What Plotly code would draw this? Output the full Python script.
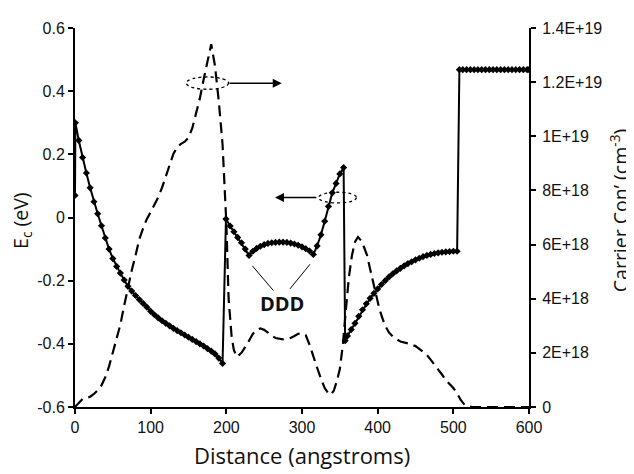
import plotly.graph_objects as go

# ---- data ----
# Conduction band edge Ec (eV) vs distance (angstroms)
ec_x = [0, 0.5, 5, 10, 15, 20, 25, 30, 35, 40, 45, 50, 55, 60, 65, 70, 75, 80, 85, 90,
        95, 100, 105, 110, 115, 120, 125, 130, 135, 140, 145, 150, 155, 160, 165, 170,
        175, 180, 185, 190, 195,
        199.5, 205, 210, 215, 220, 225, 230,
        235, 240, 245, 250, 255, 260, 265, 270, 275, 280, 285, 290, 295, 300, 305, 310, 315,
        320, 325, 330, 335, 340, 345, 350, 355,
        357, 360, 365, 370, 375, 380, 385, 390, 395, 400, 405, 410, 415, 420, 425, 430,
        435, 440, 445, 450, 455, 460, 465, 470, 475, 480, 485, 490, 495, 500, 505,
        508, 512.5, 517.5, 522.5, 527.5, 532.5, 537.5, 542.5, 547.5, 552.5, 557.5, 562.5,
        567.5, 572.5, 577.5, 582.5, 587.5, 592.5, 597.5, 600]
ec_y = [0.07, 0.30, 0.244, 0.19, 0.141, 0.094, 0.05, 0.012, -0.026, -0.065, -0.10, -0.13,
        -0.155, -0.176, -0.198, -0.218, -0.233, -0.247, -0.26, -0.272, -0.284, -0.297,
        -0.308, -0.318, -0.327, -0.335, -0.343, -0.351, -0.358, -0.365, -0.372, -0.379,
        -0.386, -0.393, -0.400, -0.407, -0.415, -0.423, -0.432, -0.445, -0.462,
        -0.005, -0.027, -0.045, -0.063, -0.08, -0.10, -0.12,
        -0.107, -0.098, -0.091, -0.086, -0.082, -0.080, -0.079, -0.078, -0.078, -0.079,
        -0.081, -0.084, -0.088, -0.093, -0.099, -0.106, -0.117,
        -0.09, -0.055, -0.012, 0.035, 0.078, 0.108, 0.138, 0.158,
        -0.39, -0.375, -0.355, -0.335, -0.313, -0.292, -0.273, -0.256, -0.24, -0.226,
        -0.212, -0.20, -0.188, -0.178, -0.169, -0.161, -0.153, -0.146, -0.14, -0.134,
        -0.129, -0.124, -0.12, -0.117, -0.114, -0.112, -0.11, -0.109, -0.108, -0.107, -0.107,
        0.468, 0.468, 0.468, 0.468, 0.468, 0.468, 0.468, 0.468, 0.468, 0.468, 0.468, 0.468,
        0.468, 0.468, 0.468, 0.468, 0.468, 0.468, 0.468, 0.468]

# Carrier concentration (units of 1E18 cm^-3) vs distance (angstroms)
cc_x = [0, 3, 6, 10, 15, 20, 25, 30, 35, 40, 45, 50, 55, 60, 65, 70, 75, 80, 85, 90, 95,
        100, 105, 110, 115, 120, 125, 130, 135, 140, 145, 150, 155, 160, 165, 170, 175,
        180, 185, 190, 195, 200, 203, 207, 210, 214, 220, 227, 235, 240, 245, 250, 255,
        260, 265, 270, 275, 280, 285, 290, 295, 300, 305, 310, 315, 320, 325, 330, 335,
        338, 342, 346, 350, 354, 358, 362, 366, 370, 374, 378, 382, 386, 390, 394, 398,
        402, 406, 410, 415, 420, 425, 430, 440, 450, 455, 460, 465, 470, 475, 480, 485,
        490, 495, 500, 505, 510, 515, 520, 525, 540, 560, 580, 600]
cc_y = [0.0, 0.1, 0.2, 0.3, 0.32, 0.38, 0.48, 0.62, 0.8, 1.1, 1.5, 2.0, 2.5, 3.05, 3.75,
        4.45, 5.05, 5.6, 6.2, 6.6, 6.95, 7.2, 7.45, 7.75, 8.1, 8.5, 8.95, 9.35, 9.6, 9.72,
        9.8, 9.95, 10.3, 10.8, 11.4, 12.1, 12.8, 13.4, 12.6, 11.3, 9.7, 6.8, 4.0, 2.6,
        2.1, 1.85, 2.0, 2.3, 2.7, 2.85, 2.9, 2.85, 2.75, 2.63, 2.55, 2.52, 2.5, 2.52,
        2.55, 2.62, 2.7, 2.72, 2.65, 2.3, 1.85, 1.45, 1.05, 0.7, 0.5, 0.45, 0.6, 0.95,
        1.4, 2.3, 3.6, 4.8, 5.6, 6.1, 6.28, 6.15, 5.9, 5.6, 5.1, 4.6, 4.1, 3.65, 3.3, 3.0,
        2.75, 2.6, 2.5, 2.42, 2.35, 2.25, 2.15, 2.05, 1.92, 1.75, 1.55, 1.38, 1.2, 1.0,
        0.85, 0.7, 0.5, 0.25, 0.08, 0.02, 0.0, 0.0, 0.0, 0.0, 0.0]
cc_y = [v * 1e18 for v in cc_y]

x_ticks = [0, 100, 200, 300, 400, 500, 600]
ec_ticks = [0.6, 0.4, 0.2, 0, -0.2, -0.4, -0.6]
ec_ticktext = ["0.6", "0.4", "0.2", "0", "-0.2", "-0.4", "-0.6"]
cc_ticks = [0, 2e18, 4e18, 6e18, 8e18, 1e19, 1.2e19, 1.4e19]
cc_ticktext = ["0", "2E+18", "4E+18", "6E+18", "8E+18", "1E+19", "1.2E+19", "1.4E+19"]

TICK_FONT = dict(family="Liberation Sans, Arial, sans-serif", size=16, color="#111")
TITLE_FONT = dict(family="Open Sans, Noto Sans, sans-serif", size=19.5, color="#111")

fig = go.Figure()
fig.add_trace(go.Scatter(
    x=cc_x, y=cc_y, yaxis="y2", mode="lines",
    line=dict(color="black", width=2.2, dash="11px,6px"),
    showlegend=False, hoverinfo="skip"))
fig.add_trace(go.Scatter(
    x=ec_x, y=ec_y, yaxis="y", mode="lines+markers",
    line=dict(color="black", width=2),
    marker=dict(symbol="diamond", size=5.5, color="black"),
    showlegend=False, hoverinfo="skip"))

shapes = [
    # dotted ellipses
    dict(type="circle", xref="x", yref="y", x0=147, x1=203, y0=0.406, y1=0.445,
         line=dict(color="black", width=1.3, dash="dot")),
    dict(type="circle", xref="x", yref="y", x0=322, x1=372, y0=0.046, y1=0.080,
         line=dict(color="black", width=1.3, dash="dot")),
    # DDD pointer lines
    dict(type="line", xref="x", yref="y", x0=234.3, y0=-0.153, x1=262.1, y1=-0.231,
         line=dict(color="black", width=1)),
    dict(type="line", xref="x", yref="y", x0=310.6, y0=-0.148, x1=284.1, y1=-0.226,
         line=dict(color="black", width=1)),
]

annotations = [
    dict(x=273.2, y=0.425, ax=202.2, ay=0.425, xref="x", yref="y", axref="x", ayref="y",
         showarrow=True, arrowhead=2, arrowsize=1.2, arrowwidth=1.5, arrowcolor="black", text=""),
    dict(x=264.3, y=0.063, ax=321, ay=0.063, xref="x", yref="y", axref="x", ayref="y",
         showarrow=True, arrowhead=2, arrowsize=1.2, arrowwidth=1.5, arrowcolor="black", text=""),
    dict(x=273, y=-0.2715, xref="x", yref="y", text="<b>DDD</b>", showarrow=False,
         xanchor="center", yanchor="middle",
         font=dict(family="Open Sans, sans-serif", size=20, color="#111")),
    dict(x=-0.1167, y=0.491, xref="paper", yref="paper", text="E<sub>c</sub> (eV)",
         xanchor="center", yanchor="middle",
         textangle=-90, showarrow=False, font=TITLE_FONT),
    dict(x=1.198, y=0.519, xref="paper", yref="paper", text="Carrier Con\u2019 (cm<sup>-3</sup>)",
         xanchor="center", yanchor="middle",
         textangle=-90, showarrow=False, font=TITLE_FONT),
    dict(x=0.499, y=-0.127, xref="paper", yref="paper", text="Distance (angstroms)",
         xanchor="center", yanchor="middle",
         showarrow=False, font=dict(TITLE_FONT, size=22)),
]

fig.update_layout(
    width=626, height=466,
    margin=dict(l=67, r=105, t=12, b=67),
    paper_bgcolor="white", plot_bgcolor="white",
    shapes=shapes, annotations=annotations,
    xaxis=dict(range=[0, 600], tickvals=x_ticks, ticks="outside", ticklen=5, tickwidth=1.5,
               tickcolor="black", showline=True, linecolor="black", linewidth=2,
               showgrid=False, zeroline=False, tickfont=TICK_FONT),
    yaxis=dict(range=[-0.6, 0.6], tickvals=ec_ticks, ticktext=ec_ticktext, ticks="outside",
               ticklen=5, tickwidth=1.5, tickcolor="black", showline=True, linecolor="black",
               linewidth=2, showgrid=False, zeroline=False, tickfont=TICK_FONT),
    yaxis2=dict(range=[0, 1.4e19], overlaying="y", side="right", anchor="x",
                tickvals=cc_ticks, ticktext=cc_ticktext, ticks="outside", ticklen=5,
                tickwidth=1.5, tickcolor="black", showline=True, linecolor="black",
                linewidth=2, showgrid=False, zeroline=False, tickfont=TICK_FONT,
                ticklabelstandoff=3),
    yaxis3=dict(range=[0, 1.4e19], overlaying="y", side="right", anchor="x",
                tickvals=cc_ticks, ticks="inside", ticklen=5, tickwidth=1.5,
                tickcolor="black", showticklabels=False, showline=False,
                showgrid=False, zeroline=False),
)

fig.write_html("out.html")
